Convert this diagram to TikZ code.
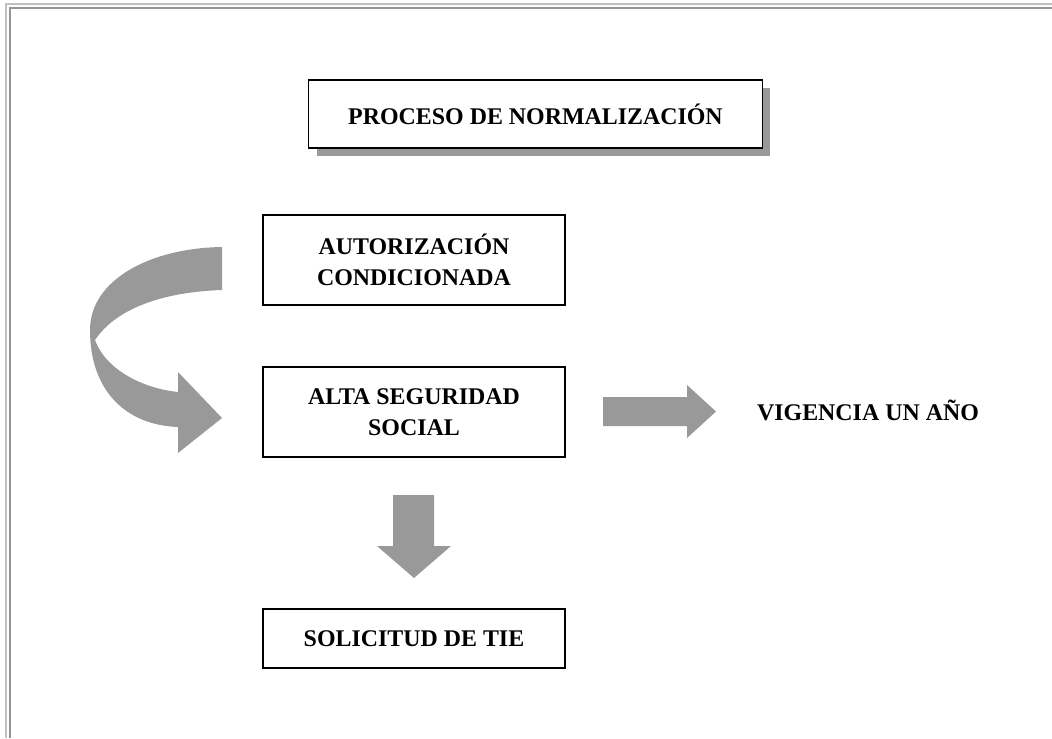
\documentclass[tikz,border=0pt]{standalone}
\usepackage{fontspec}
\setmainfont{Liberation Serif}
\usepackage{tikz}
\usetikzlibrary{shadows}

\definecolor{arrowgray}{RGB}{153,153,153}
\definecolor{framelight}{RGB}{192,192,192}
\definecolor{framedark}{RGB}{150,150,150}

\tikzset{
  stepbox/.style={draw, line width=0.9pt, fill=white, align=center, inner sep=0pt,
    minimum width=7.55cm, font=\fontsize{17}{22}\selectfont\bfseries},
  titlebox/.style={stepbox, minimum width=11.33cm, minimum height=1.7cm,
    drop shadow={shadow xshift=0.2cm, shadow yshift=-0.2cm, fill=arrowgray, opacity=1}},
  plainlabel/.style={align=center, inner sep=0pt, font=\fontsize{17}{22}\selectfont\bfseries},
  blockarrow/.style={fill=arrowgray, draw=none}
}

\begin{document}
\begin{tikzpicture}[x=0.025cm, y=-0.025cm]
  \useasboundingbox (0,0) rectangle (1052,738);
  % Page frame
  \draw[framelight, line width=1pt] (6,738) -- (6,4) -- (1052,4);
  \draw[framedark, line width=1.6pt] (10,738) -- (10,8) -- (1052,8);
  % Title
  \node[titlebox] (title) at (535.5,114) {PROCESO DE NORMALIZACIÓN};
  % Steps
  \node[stepbox, minimum height=2.25cm] (autoriz) at (414,260) {AUTORIZACIÓN\\CONDICIONADA};
  \node[stepbox, minimum height=2.25cm] (alta) at (414,412) {ALTA SEGURIDAD\\SOCIAL};
  \node[stepbox, minimum height=1.475cm] (tie) at (414,638.5) {SOLICITUD DE TIE};
  \node[plainlabel] (vigencia) at (868,410) {VIGENCIA UN AÑO};
  % Curved arrow from autorizacion to alta
  \fill[blockarrow] (222,247) .. controls (150,248) and (90,280) .. (90,330)
    .. controls (90,390) and (125,425) .. (178,427) -- (178,453) -- (222,418)
    -- (178,372) -- (178,392) .. controls (140,388) and (105,368) .. (95,340)
    .. controls (115,310) and (160,292) .. (222,290) -- cycle;
  % Arrow to vigencia
  \fill[blockarrow] (603,397) -- (687,397) -- (687,385) -- (716,411.5)
    -- (687,438) -- (687,426) -- (603,426) -- cycle;
  % Arrow down to tie
  \fill[blockarrow] (393,495) -- (434,495) -- (434,546) -- (451,546)
    -- (414,578) -- (377,546) -- (393,546) -- cycle;
\end{tikzpicture}
\end{document}
